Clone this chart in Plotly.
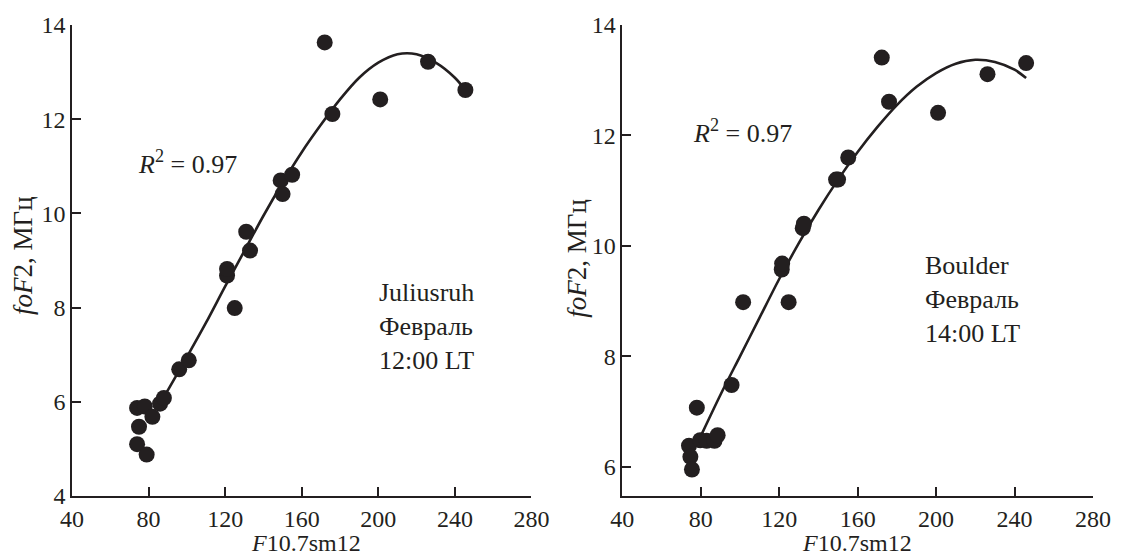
import plotly.graph_objects as go

# ---- Data: Juliusruh (left panel) ----
jul_x = [74, 78, 75, 82, 74, 79, 86, 88, 96, 101, 121, 121, 125, 131, 133,
         149, 150, 155, 172, 176, 201, 226, 245.5]
jul_y = [5.87, 5.9, 5.47, 5.68, 5.1, 4.88, 5.96, 6.08, 6.69, 6.88, 8.68, 8.82, 7.99, 9.61, 9.21,
         10.7, 10.41, 10.82, 13.63, 12.11, 12.42, 13.22, 12.62]
jul_fit_x = [88, 100, 110, 120, 130, 140, 150, 160, 170, 180, 190, 200, 210, 220, 230, 240, 245.5]
jul_fit_y = [6.1, 6.95, 7.68, 8.45, 9.2, 9.95, 10.65, 11.3, 11.88, 12.42, 12.88, 13.2, 13.38, 13.38, 13.2, 12.88, 12.62]

# ---- Data: Boulder (right panel) ----
bou_x = [74, 74.7, 75.5, 78, 79.7, 83, 87, 88.6, 95.7, 101.6, 124.8, 121.3, 121.5,
         132, 132.6, 149, 150, 155.2, 172.3, 176, 201, 226.2, 245.9]
bou_y = [6.38, 6.18, 5.95, 7.07, 6.48, 6.47, 6.47, 6.57, 7.48, 8.98, 8.98, 9.57, 9.68,
         10.32, 10.4, 11.2, 11.2, 11.6, 13.41, 12.61, 12.41, 13.11, 13.31]
bou_fit_x = [80.6, 90, 100, 110, 120, 130, 140, 150, 160, 170, 180, 190, 200, 210, 220, 230, 240, 245.9]
bou_fit_y = [6.6, 7.3, 8.0, 8.7, 9.4, 10.05, 10.65, 11.2, 11.7, 12.15, 12.55, 12.88, 13.13, 13.3, 13.37, 13.33, 13.19, 13.04]

x_ticks = [40, 80, 120, 160, 200, 240, 280]
left_y_ticks = [4, 6, 8, 10, 12, 14]
right_y_ticks = [6, 8, 10, 12, 14]

INK = "#231f20"
FONT = "Liberation Serif"

fig = go.Figure()

fig.add_trace(go.Scatter(x=jul_fit_x, y=jul_fit_y, mode="lines",
                         line=dict(color=INK, width=2.6, shape="spline", smoothing=0.8),
                         xaxis="x", yaxis="y", showlegend=False, hoverinfo="skip"))
fig.add_trace(go.Scatter(x=jul_x, y=jul_y, mode="markers", marker=dict(color=INK, size=16),
                         xaxis="x", yaxis="y", showlegend=False))
fig.add_trace(go.Scatter(x=bou_fit_x, y=bou_fit_y, mode="lines",
                         line=dict(color=INK, width=2.6, shape="spline", smoothing=0.8),
                         xaxis="x2", yaxis="y2", showlegend=False, hoverinfo="skip"))
fig.add_trace(go.Scatter(x=bou_x, y=bou_y, mode="markers", marker=dict(color=INK, size=16),
                         xaxis="x2", yaxis="y2", showlegend=False))

axis_common = dict(showline=True, linecolor=INK, linewidth=1.6, ticks="inside", ticklen=9,
                   tickwidth=1.5, tickcolor=INK, showgrid=False, zeroline=False,
                   tickfont=dict(family=FONT, size=24, color=INK))

fig.update_layout(
    width=1123, height=555,
    margin=dict(l=72, r=20, t=24, b=59),
    paper_bgcolor="white", plot_bgcolor="white",
    font=dict(family=FONT, color=INK),
    xaxis=dict(domain=[0, 0.45], range=[40, 280], tickvals=x_ticks, anchor="y", **axis_common),
    yaxis=dict(domain=[0, 1], range=[4, 14], tickvals=left_y_ticks, anchor="x", **axis_common),
    xaxis2=dict(domain=[0.539, 1.0], range=[40, 280], tickvals=x_ticks, anchor="y2", **axis_common),
    yaxis2=dict(domain=[0, 1], range=[5.47, 14], tickvals=right_y_ticks, anchor="x2", **axis_common),
)

ann_font = dict(family=FONT, size=26, color=INK)
ytitle_font = dict(family=FONT, size=27, color=INK)
xtitle_font = dict(family=FONT, size=24, color=INK)
annotations = [
    dict(text="<i>R</i><sup>2</sup> = 0.97", x=73.6, y=11.08, xref="x", yref="y",
         xanchor="left", yanchor="middle", showarrow=False, font=ann_font),
    dict(text="<i>R</i><sup>2</sup> = 0.97", x=74.8, y=12.07, xref="x2", yref="y2",
         xanchor="left", yanchor="middle", showarrow=False, font=ann_font),
    dict(text="Juliusruh<br>Февраль<br>12:00 LT", x=199.3, y=7.6, xref="x", yref="y",
         xanchor="left", yanchor="middle", align="left", showarrow=False, font=ann_font),
    dict(text="Boulder<br>Февраль<br>14:00 LT", x=193.4, y=9.03, xref="x2", yref="y2",
         xanchor="left", yanchor="middle", align="left", showarrow=False, font=ann_font),
    dict(text="<i>foF</i>2, МГц", x=-0.0485, y=0.5106, xref="paper", yref="paper",
         textangle=-90, xanchor="center", yanchor="middle", showarrow=False, font=ytitle_font),
    dict(text="<i>foF</i>2, МГц", x=0.4947, y=0.504, xref="paper", yref="paper",
         textangle=-90, xanchor="center", yanchor="middle", showarrow=False, font=ytitle_font),
    dict(text="<i>F</i>10.7sm12", x=0.2289, y=-0.0996, xref="paper", yref="paper",
         xanchor="center", yanchor="middle", showarrow=False, font=xtitle_font),
    dict(text="<i>F</i>10.7sm12", x=0.769, y=-0.0996, xref="paper", yref="paper",
         xanchor="center", yanchor="middle", showarrow=False, font=xtitle_font),
]
fig.update_layout(annotations=annotations)

fig.write_html("out.html")
